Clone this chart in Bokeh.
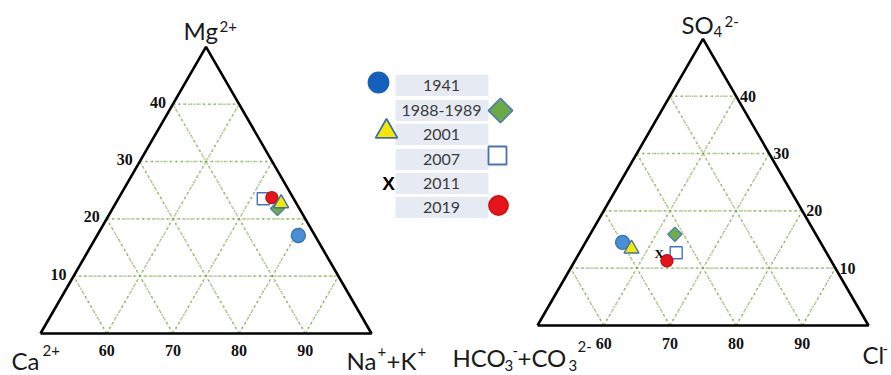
import numpy as np
from bokeh.plotting import figure
from bokeh.models import Range1d
from bokeh.core.properties import value
from bokeh.embed import file_html
from bokeh.resources import INLINE

# ---------------- data ----------------
years = ["1941", "1988-1989", "2001", "2007", "2011", "2019"]
# cation triangle (Na+K %, Mg %); 2011 not plotted
cat_nak = [80.4, 74.9, 75.0, 71.9, np.nan, 73.1]
cat_mg = [17.1, 21.8, 22.7, 23.5, np.nan, 23.7]
# anion triangle (Cl %, SO4 %)
an_cl = [55.6, 62.8, 57.5, 64.6, 62.1, 63.9]
an_so4 = [14.5, 15.9, 13.4, 12.7, 12.6, 11.3]
grid_vals = [10, 20, 30, 40]
base_ticks = [60, 70, 80, 90]
side_ticks = [10, 20, 30, 40]

W, H = 891, 375
p = figure(width=W, height=H, x_range=Range1d(0, W), y_range=Range1d(0, H),
           min_border=0, x_axis_location=None, y_axis_location=None,
           toolbar_location=None, output_backend="svg")
p.grid.visible = False
p.outline_line_color = None
p.background_fill_color = "white"


def fx(px):
    return px


def fy(py):
    return H - py


S3 = np.sqrt(3) / 2
SC = 6.62


def tern(ox, oy, a, b):
    a = np.asarray(a, dtype=float)
    b = np.asarray(b, dtype=float)
    return ox + SC * ((a - 50) + b / 2), oy + SC * b * S3


LEFT = (fx(40), fy(333))
RIGHT = (fx(537), fy(325))

LBL_FONT = value("Lato")
TICK_FONT = value("Liberation Serif")

styles = {
    "1941": dict(marker="circle", fill="#4a8ed6", line="#3a72b8", size=14, angle=0),
    "1988-1989": dict(marker="square", fill="#70ad47", line="#4f7fb5", size=10, angle=np.pi / 4),
    "2001": dict(marker="triangle", fill="#f3e800", line="#3f6fb0", size=15, angle=0),
    "2007": dict(marker="square", fill="white", line="#4472c4", size=12, angle=0),
    "2019": dict(marker="circle", fill="#e8141c", line="#c01010", size=12, angle=0),
}


def draw_triangle(ox, oy):
    xs, ys = [], []
    for g in grid_vals:
        for (a0, b0, a1, b1) in [(50, g, 100 - g, g), (50 + g, 0, 50 + g, 50 - g), (50 + g, 0, 50, g)]:
            X, Y = tern(ox, oy, [a0, a1], [b0, b1])
            xs.append(list(X))
            ys.append(list(Y))
    p.multi_line(xs, ys, line_color="#bcd893", line_width=1.6, line_dash="3 2")
    p.multi_line(xs, ys, line_color="#66736f", line_width=1.3, line_dash="1 5", line_alpha=0.75)
    X, Y = tern(ox, oy, [50, 100, 50, 50], [0, 0, 50, 0])
    p.line(X, Y, line_color="black", line_width=2.6)


draw_triangle(*LEFT)
draw_triangle(*RIGHT)

# tick labels
for ox, oy, dy_base, side in [(LEFT[0], LEFT[1], 17, "left"), (RIGHT[0], RIGHT[1], 18, "right")]:
    X, Y = tern(ox, oy, base_ticks, [0] * len(base_ticks))
    p.text(X, Y, text=[str(t) for t in base_ticks], text_font=TICK_FONT, text_font_style="bold",
           text_font_size="16px", text_align="center", text_baseline="middle",
           y_offset=dy_base, text_color="#111111")
    if side == "left":
        X, Y = tern(ox, oy, [50] * len(side_ticks), side_ticks)
        p.text(X, Y, text=[str(t) for t in side_ticks], text_font=TICK_FONT, text_font_style="bold",
               text_font_size="16px", text_align="right", text_baseline="middle",
               x_offset=-7, y_offset=-2, text_color="#111111")
    else:
        X, Y = tern(ox, oy, [100 - t for t in side_ticks], side_ticks)
        p.text(X, Y, text=[str(t) for t in side_ticks], text_font=TICK_FONT, text_font_style="bold",
               text_font_size="16px", text_align="left", text_baseline="middle",
               x_offset=4, y_offset=0, text_color="#111111")


def piece(px, py, s, size, align="left"):
    p.text([fx(px)], [fy(py)], text=[s], text_font=LBL_FONT, text_font_size=f"{size}px",
           text_align=align, text_baseline="middle", text_color="#1a1a1a")


BIG, SMALL = 24, 15
# left triangle vertex labels
piece(183, 30, "Mg", BIG)
piece(219, 26, "2+", SMALL)
piece(11, 360, "Ca", BIG)
piece(42, 350, "2+", SMALL)
piece(346, 360, "Na", BIG)
piece(377, 351, "+", SMALL)
piece(386, 360, "+K", BIG)
piece(417, 351, "+", SMALL)
# right triangle vertex labels
piece(681, 24, "SO", BIG)
piece(713, 31, "4", SMALL)
piece(724, 21, "2-", SMALL)
piece(452, 357, "HCO", BIG)
piece(504, 365, "3", SMALL)
piece(512, 350, "-", SMALL)
piece(517, 357, "+CO", BIG)
piece(568, 365, "3", SMALL)
piece(577, 346, "2-", SMALL)
piece(862, 354, "Cl", BIG)
piece(882, 348, "-", SMALL)

# data points
cx, cy = tern(LEFT[0], LEFT[1], cat_nak, cat_mg)
ax, ay = tern(RIGHT[0], RIGHT[1], an_cl, an_so4)


def draw_point(x, y, yr):
    if np.isnan(x):
        return
    if yr == "2011":
        p.text([x], [y], text=["X"], text_font=value("Liberation Serif"), text_font_style="bold",
               text_font_size="13px", text_align="center", text_baseline="middle", text_color="black")
        return
    st = styles[yr]
    p.scatter([x], [y], marker=st["marker"], size=st["size"], angle=st["angle"],
              fill_color=st["fill"], line_color=st["line"], line_width=1.4)


for i in [0, 1, 3, 5, 2, 4]:
    draw_point(cx[i], cy[i], years[i])
for i in [0, 2, 1, 3, 4, 5]:
    draw_point(ax[i], ay[i], years[i])

# legend
row_y = [85, 110, 134, 159, 183, 207]
for yr, ry in zip(years, row_y):
    p.quad(left=fx(395), right=fx(488), top=fy(ry - 10.5), bottom=fy(ry + 10.5),
           fill_color="#e6ebf3", line_color=None)
    p.text([fx(441)], [fy(ry)], text=[yr], text_font=LBL_FONT, text_font_size="16px",
           text_align="center", text_baseline="middle", text_color="#3a3a3a")

leg = {
    "1941": (378, 82, dict(marker="circle", fill="#1560bd", line="#1560bd", size=20, angle=0)),
    "1988-1989": (500, 110, dict(marker="square", fill="#6aab45", line="#5a7fae", size=17, angle=np.pi / 4)),
    "2001": (386, 131, dict(marker="triangle", fill="#f3e800", line="#3f6fb0", size=22, angle=0)),
    "2007": (497, 155, dict(marker="square", fill="white", line="#4a72b0", size=18, angle=0)),
    "2019": (498, 205, dict(marker="circle", fill="#e8141c", line="#d01010", size=19, angle=0)),
}
for yr, (lx, ly, st) in leg.items():
    p.scatter([fx(lx)], [fy(ly)], marker=st["marker"], size=st["size"], angle=st["angle"],
              fill_color=st["fill"], line_color=st["line"], line_width=1.8)
p.text([fx(388)], [fy(183)], text=["X"], text_font=value("Liberation Sans"), text_font_style="bold",
       text_font_size="19px", text_align="center", text_baseline="middle", text_color="black")

open("out.html", "w").write(file_html(p, INLINE))
